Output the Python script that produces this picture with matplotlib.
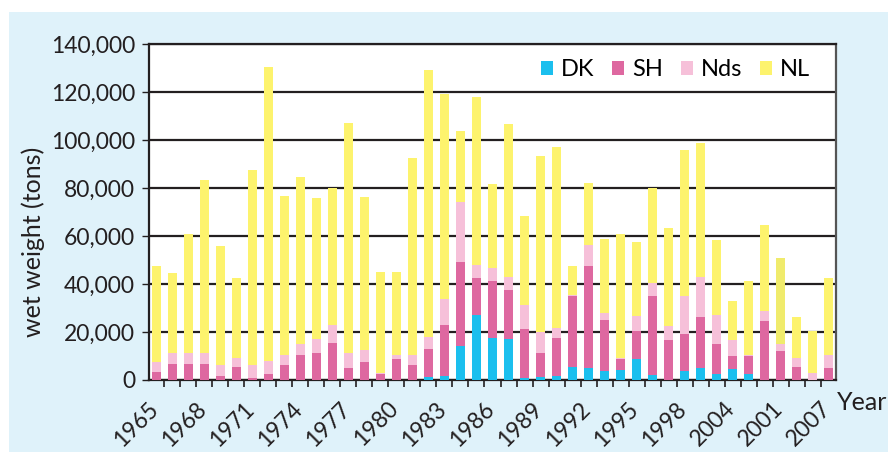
# -*- coding: utf-8 -*-
"""
Stacked bars of annual wet weight landings (tons) by region, 1965-2007
"""

import numpy as np
import matplotlib as mpl
import matplotlib.pyplot as plt
from matplotlib.patches import Rectangle
from matplotlib.transforms import ScaledTranslation
from matplotlib.ticker import FuncFormatter, FixedLocator

mpl.rcParams['font.family'] = ['Lato', 'DejaVu Sans']

# Data (thousand tons)
years = list(range(1965, 2008))
dk = [0, 0, 0, 0, 0, 0, 0, 0, 0, 0, 0, 0, 0, 0, 0, 0, 0, 1.2, 1.5, 14.0,
      27.1, 17.4, 17.1, 0.7, 1.2, 1.5, 5.4, 4.9, 3.8, 4.0, 8.8, 2.1, 0, 3.8,
      4.9, 2.4, 4.6, 2.4, 0, 0, 0, 0, 0]
sh = [3.3, 6.7, 6.7, 6.7, 1.7, 5.4, 0.8, 2.5, 6.2, 10.4, 11.2, 15.4, 5.0,
      7.5, 2.5, 8.8, 6.2, 11.7, 21.4, 35.0, 15.4, 23.7, 20.3, 20.5, 10.0,
      16.0, 29.6, 42.6, 21.2, 4.8, 11.6, 32.9, 16.7, 15.4, 21.4, 12.6, 5.4,
      7.6, 24.6, 12.1, 5.4, 0, 5.0]
nds = [4.2, 4.5, 4.5, 4.5, 4.5, 3.8, 5.5, 5.4, 4.2, 4.6, 5.9, 7.5, 6.2, 5.0,
       0.4, 1.6, 4.2, 5.0, 10.8, 25.0, 5.4, 5.4, 5.5, 10.0, 8.7, 4.0, 0.4,
       8.7, 2.9, 0.4, 6.3, 5.4, 5.9, 15.8, 16.6, 12.1, 6.7, 0.4, 4.2, 2.9,
       3.8, 2.9, 5.4]
nl = [39.9, 33.2, 49.5, 72.0, 49.5, 33.2, 81.1, 122.5, 66.1, 69.4, 58.6,
      57.0, 95.7, 63.6, 42.0, 34.5, 82.0, 111.1, 85.6, 29.6, 69.9, 35.0,
      63.6, 37.0, 73.3, 75.4, 12.0, 25.7, 30.9, 51.5, 30.7, 39.5, 40.6,
      60.7, 55.7, 31.1, 16.1, 30.7, 35.6, 35.7, 17.0, 17.5, 32.0]
tick_labels = ['1965', '1968', '1971', '1974', '1977', '1980', '1983', '1986',
               '1989', '1992', '1995', '1998', '2004', '2001', '2007']

colors = {'DK': '#1bbfee', 'SH': '#de68a0', 'Nds': '#f6c0d9', 'NL': '#fdf36d'}
ink = '#231f20'

fig = plt.figure(figsize=(8.9, 4.57), dpi=100, facecolor='white')
# light blue panel behind everything
fig.patches.append(Rectangle((9 / 890, 5 / 457), 879 / 890, 440 / 457,
                             transform=fig.transFigure, facecolor='#dff2fa',
                             edgecolor='none', zorder=-10))

ax = fig.add_axes([149 / 890, 77 / 457, 687 / 890, 336 / 457])
ax.set_facecolor('white')

x = np.arange(len(years))
dk_a = np.array(dk) * 1000
sh_a = np.array(sh) * 1000
nds_a = np.array(nds) * 1000
nl_a = np.array(nl) * 1000

w = 0.56
ax.bar(x, dk_a, w, color=colors['DK'], label='DK', zorder=3)
ax.bar(x, sh_a, w, bottom=dk_a, color=colors['SH'], label='SH', zorder=3)
ax.bar(x, nds_a, w, bottom=dk_a + sh_a, color=colors['Nds'], label='Nds', zorder=3)
nl_bars = ax.bar(x, nl_a, w, bottom=dk_a + sh_a + nds_a, color=colors['NL'],
                 label='NL', zorder=3)
# the 2004 bar is printed in a slightly darker yellow
nl_bars[years.index(2004)].set_facecolor('#f0eb6c')

ax.set_xlim(-0.44, len(years) - 0.56)
ax.set_ylim(0, 140000)
ax.set_yticks(np.arange(0, 140001, 20000))
ax.yaxis.set_major_formatter(FuncFormatter(lambda v, p: f'{int(v):,}'))
ax.grid(axis='y', color=ink, linewidth=1.6, zorder=0)
ax.tick_params(axis='y', labelsize=16.5, length=5, width=1, color=ink,
               pad=5, labelcolor=ink)

# tick marks between bars, labels under every third bar
ax.xaxis.set_major_locator(FixedLocator(np.arange(0.5, len(years) - 0.5, 1)))
ax.xaxis.set_major_formatter(FuncFormatter(lambda v, p: ''))
ax.xaxis.set_minor_locator(FixedLocator(x[::3]))
ax.set_xticklabels(tick_labels, minor=True, rotation=45, ha='right',
                   fontsize=16.5, color=ink)
ax.tick_params(axis='x', which='major', length=5, width=1.2, color=ink)
ax.tick_params(axis='x', which='minor', length=0, pad=13)
shift = ScaledTranslation(6 / 100, 0, fig.dpi_scale_trans)
for lab in ax.get_xticklabels(minor=True):
    lab.set_transform(lab.get_transform() + shift)

for side in ['top', 'left', 'bottom']:
    ax.spines[side].set_color(ink)
    ax.spines[side].set_linewidth(1.6)
ax.spines['right'].set_color('#555555')
ax.spines['right'].set_linewidth(1.6)

fig.text(33 / 890, 1 - 242 / 457, 'wet weight (tons)', rotation=90,
         ha='center', va='center', fontsize=18, color=ink)
fig.text(837 / 890, 1 - 402 / 457, 'Year', ha='left', va='center',
         fontsize=18, color=ink)

ax.legend(loc='upper right', bbox_to_anchor=(0.985, 1.0), ncol=4,
          frameon=False, fontsize=17, handlelength=0.5, handleheight=0.5,
          handletextpad=0.35, columnspacing=0.75, borderaxespad=0.25)

plt.savefig('out.png', dpi=100, facecolor='white')
plt.close()
